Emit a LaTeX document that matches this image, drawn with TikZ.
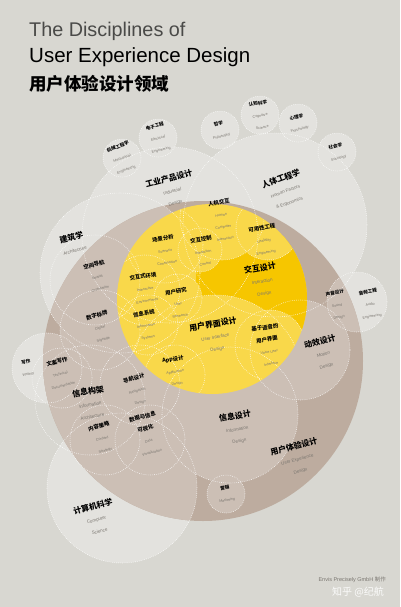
\documentclass[tikz,border=0pt]{standalone}
\usepackage{fontspec}
\setmainfont{Liberation Sans}
\newfontfamily\cjk{Noto Sans CJK SC}
\definecolor{bgc}{HTML}{D8D7D1}
\definecolor{greyc}{HTML}{E3E2DE}
\definecolor{brownD}{HTML}{BDAC9F}
\definecolor{brownL}{HTML}{CCBFB5}
\definecolor{yelD}{HTML}{F6C600}
\definecolor{yelL}{HTML}{F9D84A}
\definecolor{engrey}{HTML}{7A7670}
\definecolor{titlegrey}{HTML}{4A4A48}
\newcommand\ZA[1]{{\cjk\bfseries\fontsize{8}{10}\selectfont #1}}
\newcommand\ZB[1]{{\cjk\bfseries\fontsize{5.4}{6.8}\selectfont #1}}
\newcommand\ZC[1]{{\cjk\bfseries\fontsize{4.6}{5.8}\selectfont #1}}
\newcommand\EA[1]{{\color{engrey}\fontsize{4.5}{6.2}\selectfont #1}}
\newcommand\EB[1]{{\color{engrey}\fontsize{3.6}{5}\selectfont #1}}
\tikzset{
  dotc/.style={draw=white, line width=0.55pt, dash pattern=on 0.6pt off 1.3pt},
  lab/.style={align=center, inner sep=0pt, text=black},
}
\begin{document}
\begin{tikzpicture}[x=1pt,y=-1pt]
\fill[bgc] (0,0) rectangle (400,607);
\useasboundingbox (0,0) rectangle (400,607);
% title
\node[anchor=base west, inner sep=0pt, text=titlegrey] (t1) at (29,37) {\fontsize{19.8}{22}\selectfont The Disciplines of};
\node[anchor=base west, inner sep=0pt, text=black] (t2) at (29,63) {\fontsize{20.5}{22}\selectfont User Experience Design};
\node[anchor=base west, inner sep=0pt, text=black] (t3) at (29,91) {\cjk\bfseries\fontsize{17.5}{20}\selectfont 用户体验设计领域};
% outer grey circles
\foreach \cx/\cy/\r in {122/158/19, 158/138/19, 220/130/19, 260/115/19, 298/123/19, 337/152/19,
  170/235/88, 275/225/92, 120/273/80, 47/368/35, 122/488/75, 357/302/30}
  {\fill[greyc] (\cx,\cy) circle[radius=\r pt];}
% brown
\fill[brownD] (203,361) circle[radius=160pt];
\begin{scope}
  \clip (203,361) circle[radius=160pt];
  \foreach \cx/\cy/\r in {95/280/45, 100/330/40, 62/378/30, 90/400/55, 140/385/40, 105/440/35, 150/440/35, 230/415/68, 300/350/50,
     122/488/75, 120/273/80, 47/368/35, 357/302/30}
   {\fill[brownL] (\cx,\cy) circle[radius=\r pt];}
\end{scope}
\fill[brownL] (226,494) circle[radius=19pt];
% yellow
\fill[yelL] (212,299) circle[radius=95pt];
\begin{scope}
  \clip (212,299) circle[radius=95pt];
  \clip (196,236) rectangle (312,330);
  \fill[yelD] (196,236) rectangle (312,330);
  \foreach \cx/\cy/\r in {222/218/42, 268/228/32, 200/250/22, 178/298/24, 215/383/88, 270/345/35}
   {\fill[yelL] (\cx,\cy) circle[radius=\r pt];}
\end{scope}
% dotted outlines
\foreach \cx/\cy/\r in {122/158/19, 158/138/19, 220/130/19, 260/115/19, 298/123/19, 337/152/19,
  170/235/88, 275/225/92, 120/273/80, 47/368/35, 122/488/75, 357/302/30,
  95/280/45, 100/330/40, 62/378/30, 90/400/55, 140/385/40, 105/440/35, 150/440/35, 230/415/68, 300/350/50, 226/494/19}
  {\draw[dotc] (\cx,\cy) circle[radius=\r pt];}
\begin{scope}
  \clip (212,299) circle[radius=95pt];
  \foreach \cx/\cy/\r in {222/218/42, 268/228/32, 200/250/22, 165/245/38, 145/290/35, 178/298/24, 148/325/30, 215/383/88, 270/345/35, 175/375/30}
   {\draw[dotc] (\cx,\cy) circle[radius=\r pt];}
\end{scope}
% labels: outer
\node[lab, rotate=20] (mech) at (122,158) {\ZC{机械工程学}\\\EB{Mechanical}\\\EB{Engineering}};
\node[lab, rotate=15] (elec) at (158,138) {\ZC{电子工程}\\\EB{Electrical}\\\EB{Engineering}};
\node[lab, rotate=15] (phil) at (220,130) {\ZC{哲学}\\\EB{Philosophy}};
\node[lab, rotate=10] (cogn) at (260,115) {\ZC{认知科学}\\\EB{Cognitive}\\\EB{Science}};
\node[lab, rotate=15] (psyc) at (298,123) {\ZC{心理学}\\\EB{Psychology}};
\node[lab, rotate=15] (soci) at (337,152) {\ZC{社会学}\\\EB{Sociology}};
\node[lab, rotate=15] (indu) at (172,190) {\ZA{工业产品设计}\\\EA{Industrial}\\\EA{Design}};
\node[lab, rotate=20] (human) at (285,190) {\ZA{人体工程学}\\\EA{Human Factors}\\\EA{\& Ergonomics}};
\node[lab, rotate=15] (arch) at (73,243) {\ZA{建筑学}\\\EA{Architecture}};
\node[lab, rotate=10] (writ) at (27,368) {\ZC{写作}\\\EB{Writing}};
\node[lab, rotate=15] (comp) at (96,518) {\ZA{计算机科学}\\\EA{Computer}\\\EA{Science}};
\node[lab, rotate=10] (sound) at (337,305) {\ZC{声音设计}\\\EB{Sound}\\\EB{Design}};
\node[lab, rotate=10] (audio) at (370,304) {\ZC{音频工程}\\\EB{Audio}\\\EB{Engineering}};
% labels: brown
\node[lab, rotate=15] (spat) at (97,276) {\ZB{空间导航}\\\EB{Spatial}\\\EB{Orientation}};
\node[lab, rotate=15] (sign) at (100,327) {\ZB{数字标牌}\\\EB{Digital}\\\EB{Signage}};
\node[lab, rotate=15] (tech) at (60,373) {\ZB{文案写作}\\\EB{Technical}\\\EB{Documentation}};
\node[lab, rotate=10] (infa) at (90,403) {\ZA{信息构架}\\\EA{Information}\\\EA{Architecture}};
\node[lab, rotate=15] (navi) at (137,390) {\ZB{导航设计}\\\EB{Navigation}\\\EB{Design}};
\node[lab, rotate=15] (cont) at (102,438) {\ZB{内容策略}\\\EB{Content}\\\EB{Strategy}};
\node[lab, rotate=15] (data) at (147,434) {\ZB{数据与信息}\\\ZB{可视化}\\\EB{Data}\\\EB{Visualization}};
\node[lab, rotate=10] (infd) at (237,428) {\ZA{信息设计}\\\EA{Information}\\\EA{Design}};
\node[lab, rotate=15] (moti) at (323,353) {\ZA{动效设计}\\\EA{Motion}\\\EA{Design}};
\node[lab, rotate=15] (uxd) at (297,458) {\ZA{用户体验设计}\\\EA{User Experience}\\\EA{Design}};
\node[lab, rotate=10] (mark) at (226,494) {\ZC{营销}\\\EB{Marketing}};
% labels: yellow
\node[lab, rotate=10] (hci) at (222,220) {\ZB{人机交互}\\\EB{Human}\\\EB{Computer}\\\EB{Interaction}};
\node[lab, rotate=10] (ctrl) at (203,251) {\ZB{交互控制}\\\EB{Interaction}\\\EB{Control}};
\node[lab, rotate=10] (usab) at (264,240) {\ZB{可用性工程}\\\EB{Usability}\\\EB{Engineering}};
\node[lab, rotate=10] (ixd) at (262,280) {\ZA{交互设计}\\\EA{Interaction}\\\EA{Design}};
\node[lab, rotate=10] (scen) at (165,250) {\ZB{场景分析}\\\EB{Scenario}\\\EB{Construction}};
\node[lab, rotate=10] (envi) at (145,288) {\ZB{交互式环境}\\\EB{Interactive}\\\EB{Environments}};
\node[lab, rotate=10] (rese) at (178,303) {\ZB{用户研究}\\\EB{User}\\\EB{Research}};
\node[lab, rotate=10] (isys) at (146,325) {\ZB{信息系统}\\\EB{Information}\\\EB{Systems}};
\node[lab, rotate=10] (uid) at (215,336) {\ZA{用户界面设计}\\\EA{User Interface}\\\EA{Design}};
\node[lab, rotate=10] (voic) at (268,345) {\ZB{基于语音的}\\\ZB{用户界面}\\\EB{Voice User}\\\EB{Interface}};
\node[lab, rotate=10] (app) at (175,371) {\ZB{App设计}\\\EB{Application}\\\EB{Design}};
% footer
\node[anchor=base east, inner sep=0pt, text=engrey] (credit) at (386,581) {\fontsize{5.5}{6}\selectfont Envis Precisely GmbH {\cjk 制作}};
\node[inner sep=0pt, text=white, opacity=0.9] (wm) at (358,592) {\cjk\fontsize{10}{12}\selectfont 知乎 @纪航};
\end{tikzpicture}
\end{document}
